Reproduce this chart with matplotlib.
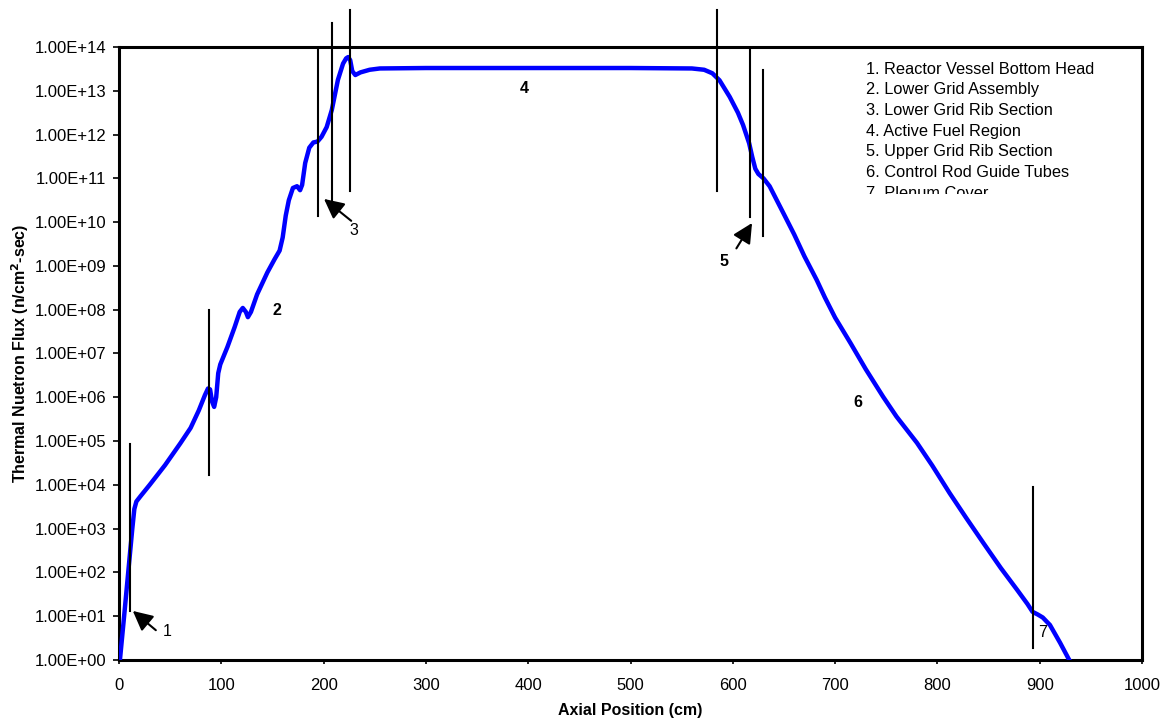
import numpy as np
import matplotlib
matplotlib.use("Agg")
import matplotlib.pyplot as plt
from matplotlib.patches import Rectangle

plt.rcParams['font.family'] = ['Liberation Sans', 'DejaVu Sans']

# Axial flux profile: position (cm) and log10(flux)
position_cm = [0.9, 5, 9, 13, 15, 17, 21, 30, 45, 60, 70, 78, 84, 87, 89, 91, 93, 95, 97, 99,
               106, 113, 118, 121, 124, 126, 129, 135, 145, 152, 157, 160, 163, 166, 170, 174,
               177, 179, 182, 186, 190, 194, 198, 203, 208, 214, 219, 222, 224, 226, 228, 231,
               236, 245, 255, 300, 400, 500, 560, 572, 580, 587, 597, 605, 610, 616, 619, 622,
               625, 630, 636, 643, 650, 660, 670, 682, 690, 700, 715, 730, 747, 760, 780, 795,
               812, 828, 845, 862, 878, 888, 893, 898, 903, 910, 920, 930]
log_flux = [0.0, 1.0, 2.0, 3.0, 3.45, 3.62, 3.74, 4.0, 4.45, 4.95, 5.30, 5.70, 6.05, 6.20, 6.18,
            5.90, 5.78, 6.0, 6.55, 6.75, 7.15, 7.6, 7.95, 8.04, 7.95, 7.83, 7.95, 8.35, 8.85,
            9.15, 9.35, 9.65, 10.15, 10.5, 10.78, 10.82, 10.73, 10.85, 11.35, 11.70, 11.82,
            11.84, 11.95, 12.17, 12.56, 13.25, 13.62, 13.74, 13.77, 13.70, 13.45, 13.36, 13.42,
            13.48, 13.51, 13.52, 13.52, 13.52, 13.51, 13.48, 13.40, 13.24, 12.86, 12.50, 12.22,
            11.80, 11.49, 11.22, 11.10, 11.00, 10.82, 10.50, 10.18, 9.72, 9.22, 8.68, 8.28,
            7.82, 7.24, 6.64, 6.01, 5.56, 4.96, 4.44, 3.81, 3.25, 2.67, 2.10, 1.60, 1.28,
            1.10, 1.04, 0.97, 0.80, 0.39, -0.05]
flux = 10.0 ** np.array(log_flux)

# Region boundary markers: x position, log10 of bottom and top ends
marker_x = [10.8, 88, 194.5, 208, 226, 584.6, 616.8, 629.5, 893.5]
marker_lo = [1.12, 4.22, 10.14, 10.39, 10.71, 10.71, 10.12, 9.68, 0.27]
marker_hi = [4.93, 7.99, 13.93, 14.55, 14.84, 14.84, 13.93, 13.47, 3.95]

# Region number labels
region_num = ['1', '2', '3', '4', '5', '6', '7']
region_x = [47, 154, 229.7, 396, 591.4, 722.4, 903.2]
region_logy = [0.64, 7.99, 9.80, 13.06, 9.11, 5.87, 0.62]
region_bold = [False, True, False, True, True, True, False]

# Arrows: tail -> head (x, log10 y)
arrow_tail = [(36, 0.68), (227, 10.03), (603.5, 9.40)]
arrow_head = [(13.5, 1.12), (200.4, 10.53), (618.8, 9.98)]

legend_lines = ['1. Reactor Vessel Bottom Head', '2. Lower Grid Assembly',
                '3. Lower Grid Rib Section', '4. Active Fuel Region',
                '5. Upper Grid Rib Section', '6. Control Rod Guide Tubes',
                '7. Plenum Cover']

fig = plt.figure(figsize=(11.69, 7.22), dpi=100)
ax = fig.add_axes([0.1018, 0.0859, 0.8751, 0.8490])

ax.plot(position_cm, flux, color='#0000FF', linewidth=3.2, solid_joinstyle='round',
        solid_capstyle='round', zorder=3)

for x, lo, hi in zip(marker_x, marker_lo, marker_hi):
    ax.plot([x, x], [10.0 ** lo, 10.0 ** hi], color='black', linewidth=1.5,
            clip_on=False, zorder=4)

for (tx, ty), (hx, hy) in zip(arrow_tail, arrow_head):
    ax.annotate('', xy=(hx, 10.0 ** hy), xytext=(tx, 10.0 ** ty),
                arrowprops=dict(arrowstyle='-|>', color='black', lw=1.5,
                                mutation_scale=30, shrinkA=0, shrinkB=0),
                zorder=5)

for s, x, ly, b in zip(region_num, region_x, region_logy, region_bold):
    ax.text(x, 10.0 ** ly, s, fontsize=11.5, fontweight='bold' if b else 'normal',
            ha='center', va='center', zorder=6)

# legend-style text block, cut off at the bottom like the original text box
for i, line in enumerate(legend_lines):
    ax.text(0.730, 0.964 - i * 0.0338, line, transform=ax.transAxes,
            fontsize=11.8, ha='left', va='center', zorder=6)
ax.add_patch(Rectangle((0.72, 0.70), 0.27, 0.0595, transform=ax.transAxes,
                       facecolor='white', edgecolor='none', zorder=7))

ax.set_yscale('log')
ax.set_xlim(0, 1000)
ax.set_ylim(1, 1e14)
ax.set_xticks(np.arange(0, 1001, 100))
ax.set_yticks([10.0 ** k for k in range(15)])
ax.set_yticklabels(['1.00E+%02d' % k for k in range(15)])
ax.yaxis.set_minor_locator(matplotlib.ticker.NullLocator())
ax.tick_params(axis='both', labelsize=12, direction='out', width=1.2, color='black')
ax.tick_params(axis='y', length=4, pad=5)
ax.tick_params(axis='x', length=3, pad=10)

for sp in ax.spines.values():
    sp.set_linewidth(2.2)

ax.set_xlabel('Axial Position (cm)', fontsize=11.5, fontweight='bold')
ax.set_ylabel('Thermal Nuetron Flux (n/cm$^{\\mathbf{2}}$-sec)', fontsize=11.5,
              fontweight='bold')
ax.xaxis.set_label_coords(0.5, -0.070)
ax.yaxis.set_label_coords(-0.086, 0.5)

fig.savefig('out.png', dpi=100)
